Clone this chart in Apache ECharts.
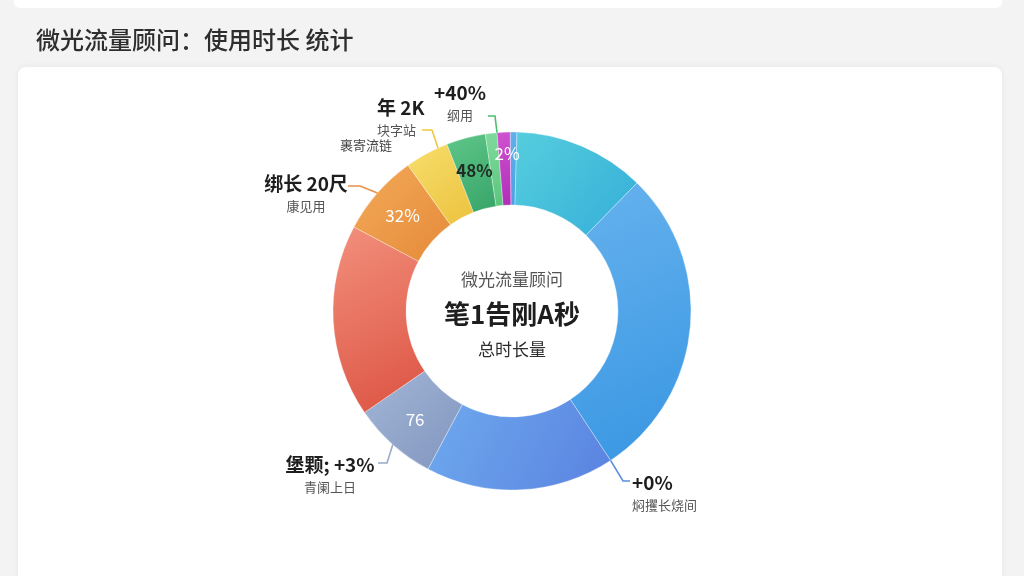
<!DOCTYPE html>
<html><head><meta charset="utf-8">
<script src="https://cdn.jsdelivr.net/npm/echarts@6/dist/echarts.min.js"></script>
<style>html,body{margin:0;padding:0;background:#f3f3f3}#c{width:1024px;height:576px}</style>
</head><body><div id="c"></div>
<script>
// ---- data (slice sizes read as degrees of the ring, clockwise from 12 o'clock) ----
const sliceNames = ['蓝A','青','蓝B','靛','灰蓝','红','橙','黄','绿','浅绿','紫'];
const sliceValues = [2.2, 42.7, 102.3, 61.4, 27.5, 62.5, 26.5, 14.2, 12.7, 3.8, 4.2];
const innerLabels = ['', '', '', '', '76', '', '32%', '', '48%', '', '2%'];
const outerMain = ['', '', '+0%', '', '堡颗; +3%', '', '绑长 20尺', '年 2K', '', '+40%', ''];
const outerSub  = ['', '', '焖攫长烧间', '', '青阑上日', '', '康见用', '块字站', '', '纲用', ''];
const strayLabel = '裹寄流链';
const centerTop = '微光流量顾问';
const centerMain = '笔1告刚A秒';
const centerBottom = '总时长量';
const titleText = '微光流量顾问：使用时长 统计';

// ---- styles ----
const grads = [
  ['#62b0ec','#4aa0e4'],['#56cede','#34aed8'],['#66b2ee','#3896e2'],['#6eaaee','#5a82e0'],
  ['#a2b6d6','#8296c0'],['#f2907c','#dc5242'],['#f4aa58','#e48a3a'],['#f6de6c','#ecc23e'],
  ['#5ec688','#38a468'],['#80da9c','#5ac67c'],['#d052d0','#b02eb8']
];
const lineColors = ['', '', '#5a8ee0', '', '#98aac8', '', '#ea9048', '#f0c840', '', '#4cc070', ''];
const CX = 512, CY = 311, R0 = 106, R1 = 179, START = 90.6;
const layoutCfg = {
  2: {frac: 1.0, elbow: [623, 481], end: [630, 481], x: 632, y: 494, align: 'left'},
  4: {frac: 0.5, elbow: [387, 463], end: [378, 463], x: 330, y: 476, align: 'center'},
  6: {frac: 0.5, elbow: [360, 186], end: [348, 186], x: 306, y: 195, align: 'center'},
  7: {frac: 0.78, elbow: [432, 130], end: [422, 130], x: 377, y: 119, align: 'left'},
  9: {frac: 1.0, elbow: [495, 116], end: [488, 116], x: 460, y: 104, align: 'center'}
};
const total = sliceValues.reduce((a, b) => a + b, 0);
const cum = []; let acc = 0;
sliceValues.forEach(v => { cum.push(acc); acc += v; });
function anchor(i, frac) {
  const a = (cum[i] + sliceValues[i] * frac) / total * 2 * Math.PI + (90 - START) * Math.PI / 180;
  return [CX + R1 * Math.sin(a), CY - R1 * Math.cos(a)];
}

const font = '"Noto Sans CJK SC", "Noto Sans", sans-serif';
const mainData = sliceNames.map((n, i) => ({
  name: n, value: sliceValues[i],
  itemStyle: {color: new echarts.graphic.LinearGradient(0, 0, 1, 1, [{offset: 0, color: grads[i][0]}, {offset: 1, color: grads[i][1]}])},
  label: innerLabels[i] ? {show: true, position: 'inside', formatter: innerLabels[i],
    color: i === 8 ? '#1f2a24' : '#ffffff', fontSize: 17, fontWeight: i === 8 ? 'bold' : 'normal', fontFamily: font,
    offset: i === 10 ? [2, -12] : [0, 0]} : {show: false}
}));
const overlayData = sliceNames.map((n, i) => ({
  name: n, value: sliceValues[i],
  label: outerMain[i] ? {show: true, formatter: '{m|' + outerMain[i] + '}\n{s|' + outerSub[i] + '}'} : {show: false},
  labelLine: outerMain[i] ? {show: true, lineStyle: {color: lineColors[i], width: 1.6}} : {show: false}
}));

const chart = echarts.init(document.getElementById('c'), null, {renderer: 'canvas'});
chart.setOption({
  backgroundColor: '#f3f3f3',
  animation: false,
  graphic: [
    {type: 'rect', shape: {x: 14, y: -10, width: 988, height: 18, r: 6}, style: {fill: '#ffffff'}, z: -10},
    {type: 'rect', shape: {x: 18, y: 67, width: 984, height: 530, r: 8}, style: {fill: '#ffffff', shadowBlur: 6, shadowColor: 'rgba(0,0,0,0.06)'}, z: -10},
    {type: 'text', x: 36, y: 40, style: {text: titleText, fontSize: 24, fontWeight: 500, fill: '#2e2e2e', fontFamily: font, textVerticalAlign: 'middle'}},
    {type: 'text', x: 392, y: 145, style: {text: strayLabel, fontSize: 13, fill: '#444', fontFamily: font, textAlign: 'right', textVerticalAlign: 'middle'}},
    {type: 'text', x: CX, y: 280, style: {text: centerTop, fontSize: 17, fill: '#555', fontFamily: font, textAlign: 'center', textVerticalAlign: 'middle'}},
    {type: 'text', x: CX, y: 314, style: {text: centerMain, fontSize: 26, fontWeight: 'bold', fill: '#1e1e1e', fontFamily: font, textAlign: 'center', textVerticalAlign: 'middle'}},
    {type: 'text', x: CX, y: 350, style: {text: centerBottom, fontSize: 17, fill: '#2e2e2e', fontFamily: font, textAlign: 'center', textVerticalAlign: 'middle'}}
  ],
  series: [
    {
      type: 'pie', center: [CX, CY], radius: [R0, R1], startAngle: START, clockwise: true,
      avoidLabelOverlap: false, silent: true,
      itemStyle: {borderWidth: 0.6, borderColor: 'rgba(255,255,255,0.55)'},
      labelLine: {show: false},
      data: mainData
    },
    {
      type: 'pie', center: [CX, CY], radius: [R0, R1], startAngle: START, clockwise: true,
      avoidLabelOverlap: false, silent: true, z: 5,
      itemStyle: {color: 'rgba(0,0,0,0)'},
      label: {position: 'outside', fontFamily: font,
        rich: {
          m: {fontSize: 19, fontWeight: 'bold', color: '#1e1e1e', lineHeight: 23, fontFamily: font},
          s: {fontSize: 13, color: '#555', lineHeight: 22, fontFamily: font}
        }},
      labelLayout: function (p) {
        const c = layoutCfg[p.dataIndex];
        if (!c) return {};
        return {x: c.x, y: c.y, align: c.align, verticalAlign: 'middle',
          labelLinePoints: [anchor(p.dataIndex, c.frac), c.elbow, c.end]};
      },
      data: overlayData
    }
  ]
});
</script></body></html>
